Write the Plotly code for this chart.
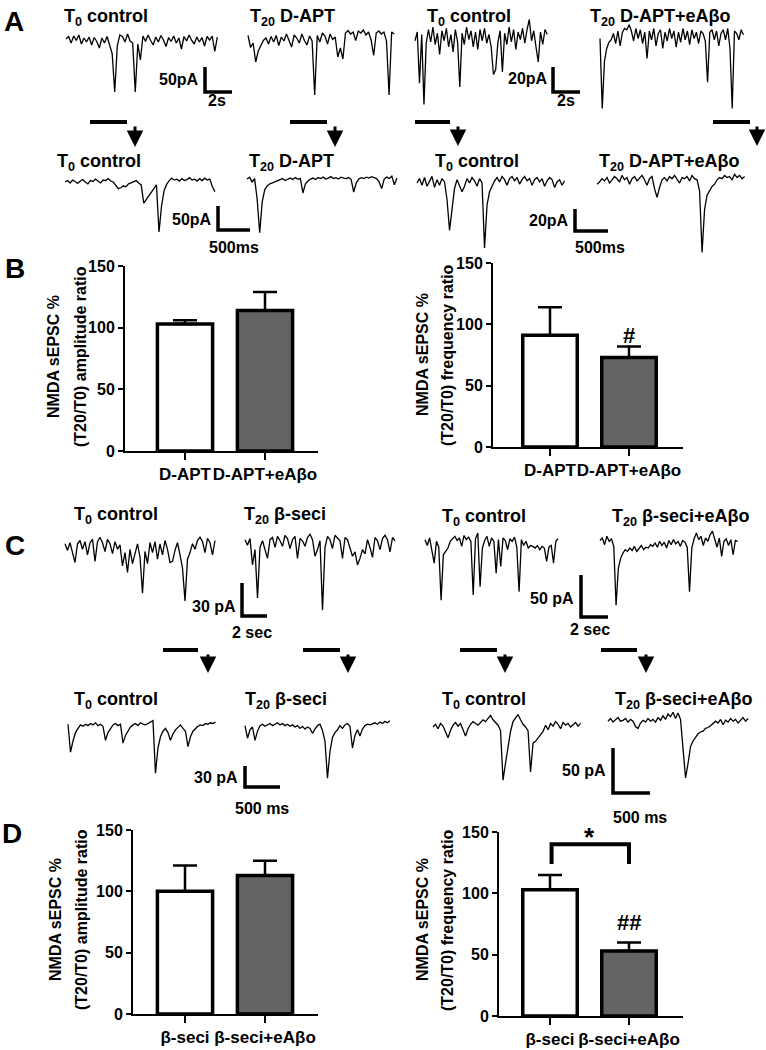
import numpy as np
import plotly.graph_objects as go

W, H = 766, 1050
FONT = "Liberation Sans, Arial, sans-serif"

# ---------------- trace data (pA, relative to baseline) ----------------
# Panel A, long traces
a_top_ctrl1 = [0,5,-8,6,-3,8,-10,2,-6,4,-12,3,-5,-18,2,-8,5,-10,-29,-106,-13,8,5,-6,10,-4,-8,-106,-10,-42,
               6,-5,8,-3,-12,4,-6,7,-2,-15,3,-5,6,-8,2,-20,5,-4,8,-3,-10,4,-6,3,-14,5,-2,6,-25,4]
a_top_dapt = [5,-19,-10,-48,-26,-15,-5,0,-12,3,-8,5,-15,2,-6,8,-4,-18,6,0,-10,8,-5,-14,4,-6,-114,5,-8,10,
              4,-12,8,-3,2,-38,-20,-42,10,15,8,12,-5,14,10,16,6,12,-4,-35,10,14,8,12,-6,-114,12,8]
a_top_ctrl2 = [-3,4,-37,2,-54,-5,6,-4,8,-6,3,-14,5,-3,7,-8,2,-12,6,-4,-40,3,-6,8,-2,5,-8,4,-10,6,
               -3,7,-5,2,-8,-30,-26,-4,5,-28,3,-6,8,-4,6,-10,4,-2,7,-5,6,14,-3,5,-8,-20,4,-6,6,2]
a_top_dapt_abo = [-2,-58,-20,-10,-5,-3,2,-6,4,-8,3,6,5,9,4,-4,6,-2,5,-6,3,-18,4,-3,6,-8,2,5,-10,3,
                  -4,6,-2,4,-9,3,-5,6,-3,4,-7,5,-2,3,-6,4,2,-4,-37,3,5,-3,4,-8,2,5,-3,6,-10,-58,4,2,-3,5,1]
# Panel A, expanded traces
a_zoom_ctrl1 = [0,3,-2,4,1,-3,2,5,0,-4,3,1,6,2,-2,4,3,7,2,0,-6,-14,-12,-8,-10,-4,-2,0,3,-2,
                -6,-44,-36,-30,-22,-12,-6,-104,-50,-18,-5,3,8,4,6,2,7,3,5,9,4,6,2,7,3,8,4,6,-10,-20]
a_zoom_dapt = [2,6,-4,3,-40,-110,-45,-20,-12,-8,-6,-4,-2,0,3,-1,2,4,1,5,2,3,-27,-8,-2,2,4,1,5,3,
               6,2,4,7,3,5,2,6,4,3,5,1,-25,-6,2,5,3,6,4,7,5,3,-4,-18,2,6,3,8,-10,4]
a_zoom_ctrl2 = [0,4,-2,5,-3,2,6,-4,3,-2,4,1,-15,-43,-25,-5,3,-2,-8,-3,4,0,5,2,-3,4,0,-59,-20,-8,
                -3,2,5,1,6,3,-2,4,6,2,5,-1,3,6,2,4,-2,3,5,1,4,-3,2,5,3,-4,1,3,-2,2]
a_zoom_dapt_abo = [-2,0,3,1,4,-1,2,5,3,0,6,2,4,-2,3,5,1,4,6,2,-3,3,5,-6,-14,-5,2,4,1,5,
                   3,6,2,-1,4,3,5,1,6,3,2,-8,-64,-25,-12,-8,-4,-2,2,4,3,6,4,5,2,7,4,6,3,5]
# Panel C, long traces
c_top_ctrl1 = [2,-4,3,-6,-15,2,5,-3,4,-8,3,6,-14,4,8,3,-5,6,2,-7,4,-3,1,-18,-6,-24,-3,-16,-8,2,
               -10,-43,-5,-16,3,-6,4,-12,2,-8,5,-3,-15,-14,-4,3,-8,-20,-50,-12,-6,2,-3,5,8,4,-6,7,3,-8,5]
c_top_seci = [3,-2,4,-20,-6,-50,-4,2,-6,-14,3,5,-4,6,2,-3,7,4,-5,3,6,-14,4,2,-3,5,8,3,-12,-6,
              2,-61,-4,6,3,-5,7,4,2,-14,5,3,-4,-12,-8,-20,-14,-6,-10,3,-4,-13,5,2,-6,4,7,3,-8,5,2]
c_top_ctrl2 = [4,-3,6,-8,-24,2,-5,-68,-14,-10,-6,2,5,8,3,6,-4,9,4,7,2,-62,5,12,-52,-6,3,8,-4,6,
               2,-36,4,-28,6,3,-8,5,2,7,-5,-58,4,-3,2,-6,-3,-4,-6,-3,-8,-4,-6,-22,-5,-3,-24,2,5]
c_top_seci_abo = [3,6,-2,8,2,5,-4,-74,-30,-18,-12,-8,-10,-6,-9,-4,-10,-7,-3,-8,-5,-6,-2,-4,0,-5,2,-3,1,-6,
                  3,-2,4,-1,2,-4,3,1,-5,-58,-6,5,12,4,8,-3,6,2,10,14,3,-5,6,-16,2,5,-3,4,-14,3,2]
# Panel C, expanded traces
c_zoom_ctrl1 = [4,-36,-20,-8,-2,3,1,4,2,5,3,6,2,4,1,-19,-8,-2,3,5,2,4,-23,-12,-5,0,3,5,2,6,
                4,3,5,7,9,-66,-30,-14,-6,-2,-8,-19,-10,-4,0,3,-2,-6,-28,-14,-6,-2,1,3,2,5,4,6,5,7]
c_zoom_seci = [2,-16,-4,0,-19,-6,2,4,1,3,5,2,4,6,3,5,2,4,1,3,0,2,-2,1,-3,0,-2,-9,-3,2,
               4,-5,-20,-73,-35,-15,-8,-4,2,-2,3,5,1,-30,-12,-4,-13,-3,2,4,3,5,6,4,7,5,8,6,9]
c_zoom_ctrl2 = [0,3,-2,4,1,-5,-12,-4,2,5,1,4,-3,-10,-2,3,6,4,2,5,8,6,10,13,8,5,2,-4,-59,-40,
                -20,-5,6,10,14,8,3,0,-4,-50,-18,-16,-12,-8,-5,2,-3,4,1,6,3,-2,5,2,4,0,3,5,1,4]
c_zoom_seci_abo = [2,5,1,4,6,2,3,5,1,4,2,-4,-6,0,3,1,5,2,4,1,6,3,8,4,10,7,12,5,11,4,
                   -30,-61,-45,-26,-20,-16,-12,-10,-9,-6,-5,-3,-1,2,0,4,-2,3,1,5,2,4,0,3,6,2,5]

# scale bars (pA, s)
scale_pa = [50, 20, 50, 20, 30, 50, 30, 50]
scale_t = [2, 2, 0.5, 0.5, 2, 2, 0.5, 0.5]
scale_pa_text = ["50pA", "20pA", "50pA", "20pA", "30 pA", "50 pA", "30 pA", "50 pA"]
scale_t_text = ["2s", "2s", "500ms", "500ms", "2 sec", "2 sec", "500 ms", "500 ms"]

# ---------------- bar data ----------------
b_categories = ["D-APT", "D-APT+eAβo"]
b_amp_mean = [103, 114]
b_amp_sem = [3, 15]
b_freq_mean = [91, 73]
b_freq_sem = [23, 9]
d_categories = ["β-seci", "β-seci+eAβo"]
d_amp_mean = [100, 113]
d_amp_sem = [21, 12]
d_freq_mean = [103, 53]
d_freq_sem = [12, 7]
y_ticks = [0, 50, 100, 150]

# ---------------- layout helpers ----------------
fig = go.Figure()
layout = dict(template="none", width=W, height=H, margin=dict(l=0, r=0, t=0, b=0, pad=0, autoexpand=False),
              paper_bgcolor="white", plot_bgcolor="rgba(0,0,0,0)", showlegend=False,
              font=dict(family=FONT, color="black"))
annotations = []
shapes = []


def px(x):
    return x / W


def py(y):
    return 1 - y / H


def ann(text, x, y, size, xanchor="center", yanchor="middle", angle=0):
    annotations.append(dict(text=text, x=px(x), y=py(y), xref="paper", yref="paper",
                            xanchor=xanchor, yanchor=yanchor, showarrow=False, textangle=angle,
                            font=dict(family=FONT, size=size, color="black", weight="bold")))


# groups: (trace1, origin1, trace2, origin2, sx px/s, sy px/pA, dt s, scale corner px)
groups = [
    (a_top_ctrl1, (66, 39), a_top_dapt, (248, 38), 13.5, 0.5, 0.19, (205, 92)),
    (a_top_ctrl2, (415, 37), a_top_dapt_abo, (600, 36), 13.5, 1.25, 0.166, (553, 92)),
    (a_zoom_ctrl1, (65, 182), a_zoom_dapt, (247, 180), 64, 0.48, 0.0397, (218, 230)),
    (a_zoom_ctrl2, (417, 183), a_zoom_dapt_abo, (597, 182), 66, 1.1, 0.0379, (575, 231)),
    (c_top_ctrl1, (65, 546), c_top_seci, (245, 543), 12.5, 1.1, 0.2, (242, 616)),
    (c_top_ctrl2, (425, 543), c_top_seci_abo, (600, 543), 13.5, 0.84, 0.17, (581, 617)),
    (c_zoom_ctrl1, (68, 727), c_zoom_seci, (245, 727), 70, 0.7, 0.0357, (245, 787)),
    (c_zoom_ctrl2, (433, 727), c_zoom_seci_abo, (608, 723), 74, 0.9, 0.0338, (613, 793)),
]
scale_label_pos = [
    ((201, 80), (217, 101)),
    ((550, 79), (566, 101)),
    ((214, 219), (234, 248)),
    ((571, 220), (600, 247)),
    ((238, 606), (252, 632)),
    ((576, 598), (590, 629)),
    ((240, 777), (262, 808)),
    ((608, 770), (640, 817)),
]

ax_id = 0


def add_trace_axis(values, origin, sx, sy, dt):
    global ax_id
    ax_id += 1
    k = ax_id
    x0, y0 = origin
    layout[f"xaxis{k}"] = dict(domain=[0, 1], range=[-x0 / sx, (W - x0) / sx], visible=False,
                               anchor=f"y{k}", fixedrange=True, automargin=False)
    layout[f"yaxis{k}"] = dict(domain=[0, 1], range=[-(H - y0) / sy, y0 / sy], visible=False,
                               anchor=f"x{k}", fixedrange=True, automargin=False)
    t = np.arange(len(values)) * dt
    fig.add_trace(go.Scatter(x=t, y=values, mode="lines", line=dict(color="black", width=1.3),
                             xaxis=f"x{k}", yaxis=f"y{k}", hoverinfo="skip", cliponaxis=False))
    return k


for gi, (tr1, o1, tr2, o2, sx, sy, dt, corner) in enumerate(groups):
    k = add_trace_axis(tr1, o1, sx, sy, dt)
    add_trace_axis(tr2, o2, sx, sy, dt)
    cx = (corner[0] - o1[0]) / sx
    cy = (o1[1] - corner[1]) / sy
    fig.add_trace(go.Scatter(x=[cx, cx, cx + scale_t[gi]], y=[cy + scale_pa[gi], cy, cy],
                             mode="lines", line=dict(color="black", width=3.5),
                             xaxis=f"x{k}", yaxis=f"y{k}", hoverinfo="skip", cliponaxis=False))
    (lx, ly), (tx, ty) = scale_label_pos[gi]
    ann(scale_pa_text[gi], lx, ly, 16, xanchor="right")
    ann(scale_t_text[gi], tx, ty, 16)

# trace labels
trace_labels = [
    ("T<sub>0</sub> control", 62, 17), ("T<sub>20</sub> D-APT", 248, 17),
    ("T<sub>0</sub> control", 425, 17), ("T<sub>20</sub> D-APT+eAβo", 588, 17),
    ("T<sub>0</sub> control", 55, 163), ("T<sub>20</sub> D-APT", 247, 163),
    ("T<sub>0</sub> control", 433, 163), ("T<sub>20</sub> D-APT+eAβo", 597, 163),
    ("T<sub>0</sub> control", 72, 515), ("T<sub>20</sub> β-seci", 242, 515),
    ("T<sub>0</sub> control", 440, 517), ("T<sub>20</sub> β-seci+eAβo", 610, 517),
    ("T<sub>0</sub> control", 72, 700), ("T<sub>20</sub> β-seci", 243, 700),
    ("T<sub>0</sub> control", 440, 700), ("T<sub>20</sub> β-seci+eAβo", 613, 700),
]
for txt, x, y in trace_labels:
    ann(txt, x, y, 18, xanchor="left")

# expansion arrows: (bar left, bar right, bar y, arrow x, arrow tip y)
arrows = [(90, 127, 122, 135, 147), (290, 327, 122, 335, 147),
          (415, 450, 122, 458, 146), (713, 750, 122, 757, 146),
          (163, 198, 650, 208, 673), (303, 340, 650, 348, 673),
          (460, 497, 650, 505, 673), (601, 637, 650, 646, 673)]
for bl, br, by, axp, tip in arrows:
    shapes.append(dict(type="line", xref="paper", yref="paper", x0=px(bl), x1=px(br),
                       y0=py(by), y1=py(by), line=dict(color="black", width=4)))
    annotations.append(dict(text="", x=px(axp), y=py(tip), xref="paper", yref="paper",
                            showarrow=True, ax=0, ay=-(tip - by - 3), arrowhead=2,
                            arrowsize=1.1, arrowwidth=3, arrowcolor="black"))

# panel letters
for letter, x, y in [("A", 14, 22), ("B", 15, 268), ("C", 15, 545), ("D", 12, 833)]:
    ann(letter, x, y, 28)

# ---------------- bar charts ----------------
bar_specs = [
    (b_categories, b_amp_mean, b_amp_sem, (125, 318, 266, 451), 185, 80, "amplitude ratio", (53, 80, 357)),
    (b_categories, b_freq_mean, b_freq_sem, (493, 683, 263, 447), 550, 79, "frequency ratio", (422, 447, 355)),
    (d_categories, d_amp_mean, d_amp_sem, (133, 318, 830, 1014), 185, 80, "amplitude ratio", (55, 81, 920)),
    (d_categories, d_freq_mean, d_freq_sem, (499, 683, 832, 1016), 550, 79, "frequency ratio", (422, 447, 920)),
]
bar_axes = []
for cats, means, sems, (xl, xr, yt, yb), tick0, unit, ttl, (t1x, t2x, ty) in bar_specs:
    ax_id += 1
    k = ax_id
    bar_axes.append(k)
    layout[f"xaxis{k}"] = dict(domain=[px(xl), px(xr)], range=[-(tick0 - xl) / unit, (xr - tick0) / unit],
                               anchor=f"y{k}", tickvals=[0, 1], ticktext=cats, ticks="outside",
                               ticklen=7, tickwidth=2, tickcolor="black", showline=True, linewidth=2,
                               linecolor="black", showgrid=False, zeroline=False, fixedrange=True,
                               tickangle=0, automargin=False,
                               tickfont=dict(family=FONT, size=17, color="black", weight="bold"))
    layout[f"yaxis{k}"] = dict(domain=[py(yb), py(yt)], range=[0, 150], anchor=f"x{k}",
                               tickvals=y_ticks, ticks="outside", ticklen=5, tickwidth=2,
                               tickcolor="black", showline=True, linewidth=2, linecolor="black",
                               showgrid=False, zeroline=False, fixedrange=True, automargin=False,
                               tickfont=dict(family=FONT, size=16, color="black", weight="bold"))
    fig.add_trace(go.Bar(x=[0, 1], y=means, width=0.69,
                         marker=dict(color=["white", "#646464"], line=dict(color="black", width=3.5)),
                         error_y=dict(type="data", array=sems, arrayminus=[0, 0], symmetric=False,
                                      thickness=2.5, width=12, color="black"),
                         xaxis=f"x{k}", yaxis=f"y{k}", hoverinfo="skip"))
    ann("NMDA sEPSC %", t1x, ty, 16, angle=-90)
    ann("(T20/T0) " + ttl, t2x, ty, 16, angle=-90)

# significance marks
kb, kd = bar_axes[1], bar_axes[3]
annotations.append(dict(text="#", x=1, y=91, xref=f"x{kb}", yref=f"y{kb}", showarrow=False,
                        yanchor="middle", font=dict(family=FONT, size=22, color="black", weight="bold")))
annotations.append(dict(text="##", x=1, y=76, xref=f"x{kd}", yref=f"y{kd}", showarrow=False,
                        yanchor="middle", font=dict(family=FONT, size=22, color="black", weight="bold")))
annotations.append(dict(text="*", x=0.5, y=146, xref=f"x{kd}", yref=f"y{kd}", showarrow=False,
                        yanchor="middle", font=dict(family=FONT, size=26, color="black", weight="bold")))
shapes.append(dict(type="path", xref=f"x{kd}", yref=f"y{kd}",
                   path="M 0.02 124 L 0.02 140 L 1.0 140 L 1.0 124",
                   line=dict(color="black", width=4)))

layout["annotations"] = annotations
layout["shapes"] = shapes
fig.update_layout(**layout)
fig.write_html("out.html", config={"displayModeBar": False, "staticPlot": True},
               post_script="document.body.style.margin='0';document.body.style.overflow='hidden';")
